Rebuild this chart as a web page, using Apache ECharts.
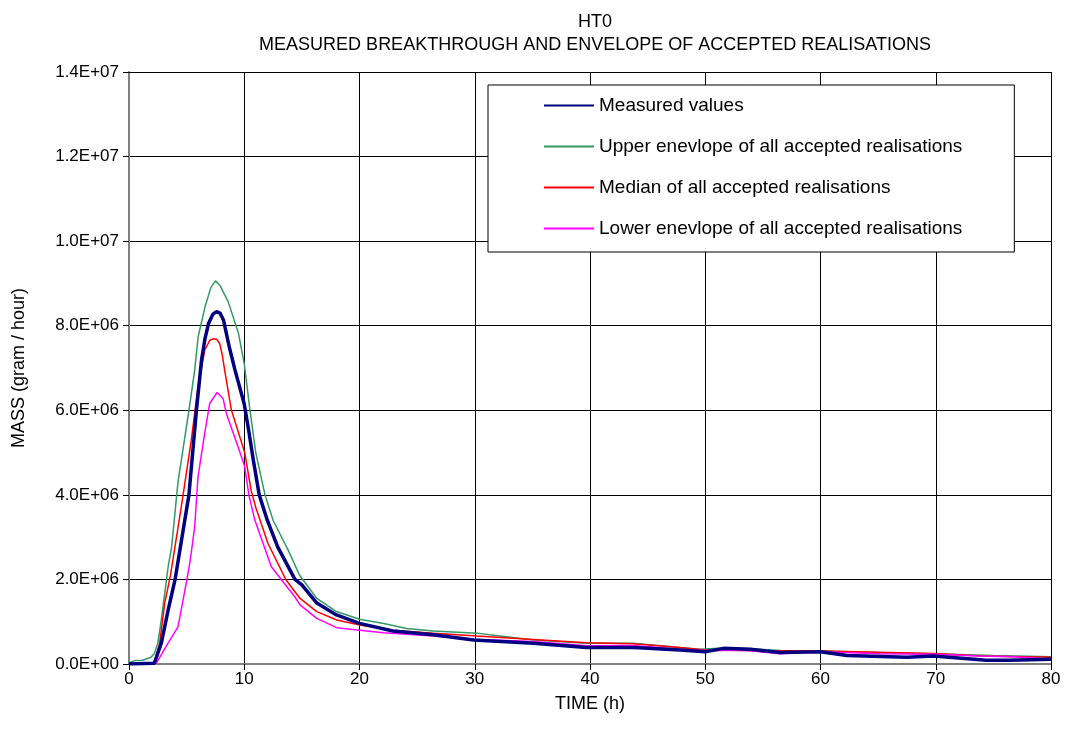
<!DOCTYPE html>
<html>
<head>
<meta charset="utf-8">
<script src="https://cdn.jsdelivr.net/npm/echarts@6/dist/echarts.min.js"></script>
<style>html,body{margin:0;padding:0;background:#fff;}#c{width:1065px;height:740px;}</style>
</head>
<body>
<div id="c"></div>
<script>
// Values in units of 1E6 gram/hour
const measuredT = [0, 2.2, 2.8, 3.4, 4.0, 4.3, 5.2, 5.85, 6.3, 6.6, 6.9, 7.3, 7.6, 7.9, 8.2, 8.7, 9.2, 10.0, 10.4, 10.8, 11.3, 12.0, 12.9, 14.4, 15.0, 16.3, 18.0, 20.0, 22.9, 26.4, 29.9, 35.1, 39.7, 43.8, 47.8, 50.0, 51.6, 53.9, 56.5, 60.0, 62.3, 67.5, 69.8, 74.4, 76.3, 80];
const measuredV = [0, 0.02, 0.49, 1.28, 2.0, 2.5, 4.0, 6.0, 7.2, 7.7, 8.05, 8.28, 8.33, 8.3, 8.13, 7.5, 6.95, 6.15, 5.5, 4.8, 4.0, 3.4, 2.77, 2.0, 1.87, 1.44, 1.16, 0.96, 0.78, 0.69, 0.57, 0.49, 0.39, 0.39, 0.33, 0.29, 0.37, 0.35, 0.27, 0.29, 0.20, 0.16, 0.19, 0.09, 0.09, 0.11];

const upperT = [0, 0.5, 1.2, 1.9, 2.2, 2.5, 2.8, 3.1, 3.4, 3.7, 4.25, 5.2, 5.7, 6.0, 6.6, 7.1, 7.5, 7.9, 8.6, 9.5, 10.0, 10.5, 11.0, 11.8, 12.5, 13.8, 14.8, 16.3, 18.0, 20.0, 22.1, 24.1, 26.4, 30.2, 31.3, 35.1, 39.7, 43.8, 47.8, 49.5, 51.6, 53.9, 56.5, 60.0, 65.0, 69.8, 75.0, 80];
const upperV = [0.03, 0.08, 0.09, 0.16, 0.25, 0.49, 1.04, 1.67, 2.3, 2.77, 4.3, 6.0, 6.95, 7.74, 8.45, 8.9, 9.06, 8.95, 8.57, 7.82, 7.1, 6.0, 5.0, 4.0, 3.4, 2.7, 2.1, 1.55, 1.24, 1.06, 0.96, 0.84, 0.78, 0.73, 0.69, 0.57, 0.49, 0.49, 0.39, 0.35, 0.38, 0.36, 0.32, 0.31, 0.27, 0.24, 0.20, 0.17];

const medianT = [0, 2.2, 2.66, 3.1, 3.6, 4.54, 5.41, 5.99, 6.57, 7.0, 7.29, 7.6, 7.87, 8.1, 8.3, 8.88, 10.04, 10.6, 11.0, 12.06, 13.6, 14.84, 16.29, 18.02, 20.04, 22.93, 26.4, 30.17, 35.08, 39.71, 43.76, 47.8, 50.0, 54.0, 60.0, 65.0, 69.8, 74.0, 80];
const medianV = [0, 0.02, 0.49, 1.44, 2.1, 3.72, 5.30, 6.56, 7.42, 7.65, 7.69, 7.68, 7.58, 7.3, 6.95, 6.01, 5.0, 4.1, 3.7, 2.85, 2.0, 1.55, 1.24, 1.04, 0.92, 0.80, 0.73, 0.66, 0.58, 0.50, 0.48, 0.39, 0.33, 0.32, 0.31, 0.28, 0.25, 0.19, 0.16];

const lowerT = [0, 2.37, 3.38, 4.25, 4.69, 5.12, 5.32, 5.70, 5.99, 6.57, 7.0, 7.64, 7.9, 8.16, 8.44, 9.46, 10.04, 10.4, 10.91, 12.35, 14.38, 14.84, 16.29, 18.02, 20.04, 22.07, 26.4, 30.17, 35.08, 39.71, 43.76, 47.8, 50.0, 53.6, 56.5, 60.0, 65.2, 69.8, 73.8, 76.7, 80];
const lowerV = [0, 0.02, 0.49, 0.88, 1.51, 2.14, 2.46, 3.25, 4.43, 5.46, 6.16, 6.42, 6.35, 6.28, 5.93, 5.14, 4.67, 4.0, 3.41, 2.30, 1.59, 1.40, 1.08, 0.86, 0.80, 0.74, 0.66, 0.58, 0.53, 0.43, 0.44, 0.35, 0.32, 0.32, 0.24, 0.29, 0.24, 0.23, 0.19, 0.17, 0.12];

const seriesNames = ['Measured values', 'Upper enevlope of all accepted realisations', 'Median of all accepted realisations', 'Lower enevlope of all accepted realisations'];
const titleLines = ['HT0', 'MEASURED BREAKTHROUGH AND ENVELOPE OF ACCEPTED REALISATIONS'];

function pairs(t, v) { return t.map((x, i) => [x, v[i] * 1e6]); }
function sci(val) {
  if (val === 0) return '0.0E+00';
  const e = Math.floor(Math.log10(Math.abs(val)) + 1e-9);
  const m = val / Math.pow(10, e);
  const es = (e < 0 ? '-' : '+') + String(Math.abs(e)).padStart(2, '0');
  return m.toFixed(1) + 'E' + es;
}

const FONT = 'Liberation Sans, Arial, sans-serif';
const chart = echarts.init(document.getElementById('c'), null, { renderer: 'canvas' });
const lineDefs = [
  { t: measuredT, v: measuredV, color: '#000080', width: 3.5 },
  { t: upperT, v: upperV, color: '#339966', width: 1.5 },
  { t: medianT, v: medianV, color: '#FF0000', width: 1.5 },
  { t: lowerT, v: lowerV, color: '#FF00FF', width: 1.5 }
];

chart.setOption({
  animation: false,
  backgroundColor: '#fff',
  textStyle: { fontFamily: FONT },
  title: {
    text: titleLines.join('\n'),
    left: 590,
    top: 6,
    textAlign: 'center',
    textStyle: { fontSize: 18, fontWeight: 'normal', color: '#000', lineHeight: 23, fontFamily: FONT }
  },
  grid: { left: 129, right: 14, top: 72, bottom: 76, containLabel: false },
  legend: {
    orient: 'vertical',
    left: 488,
    top: 85,
    padding: [11, 52, 14, 55],
    itemGap: 22,
    itemWidth: 50,
    itemHeight: 14,
    backgroundColor: '#fff',
    borderColor: '#000',
    borderWidth: 1,
    itemStyle: { opacity: 0 },
    textStyle: { fontSize: 19, color: '#000', fontFamily: FONT },
    data: seriesNames
  },
  xAxis: {
    type: 'value',
    min: 0, max: 80, interval: 10,
    name: 'TIME (h)',
    nameLocation: 'middle',
    nameGap: 31,
    nameTextStyle: { fontSize: 18, color: '#000' },
    axisLine: { show: true, onZero: false, lineStyle: { color: '#808080', width: 2 } },
    axisTick: { show: true, inside: false, length: 6, lineStyle: { color: '#000' } },
    axisLabel: { fontSize: 17, color: '#000', margin: 7 },
    splitLine: { show: true, lineStyle: { color: '#000', width: 1 } }
  },
  yAxis: {
    type: 'value',
    min: 0, max: 1.4e7, interval: 2e6,
    name: 'MASS (gram / hour)',
    nameLocation: 'middle',
    nameGap: 101,
    nameTextStyle: { fontSize: 18, color: '#000' },
    axisLine: { show: true, lineStyle: { color: '#808080', width: 2 } },
    axisTick: { show: true, inside: false, length: 6, lineStyle: { color: '#000' } },
    axisLabel: { fontSize: 17, color: '#000', margin: 10, formatter: sci },
    splitLine: { show: true, lineStyle: { color: '#000', width: 1 } }
  },
  series: lineDefs.map((d, i) => ({
    name: seriesNames[i],
    type: 'line',
    data: pairs(d.t, d.v),
    showSymbol: false,
    symbol: 'none',
    smooth: false,
    z: i === 0 ? 5 : 3,
    lineStyle: { color: d.color, width: d.width },
    itemStyle: { color: d.color }
  })).concat([{
    type: 'line', data: [], silent: true,
    markLine: { silent: true, symbol: 'none', label: { show: false },
      lineStyle: { color: '#000', width: 1, type: 'solid' },
      data: [[{ coord: [80, 0] }, { coord: [80, 1.4e7] }], [{ coord: [0, 1.4e7] }, { coord: [80, 1.4e7] }]] }
  }])
});
</script>
</body>
</html>
